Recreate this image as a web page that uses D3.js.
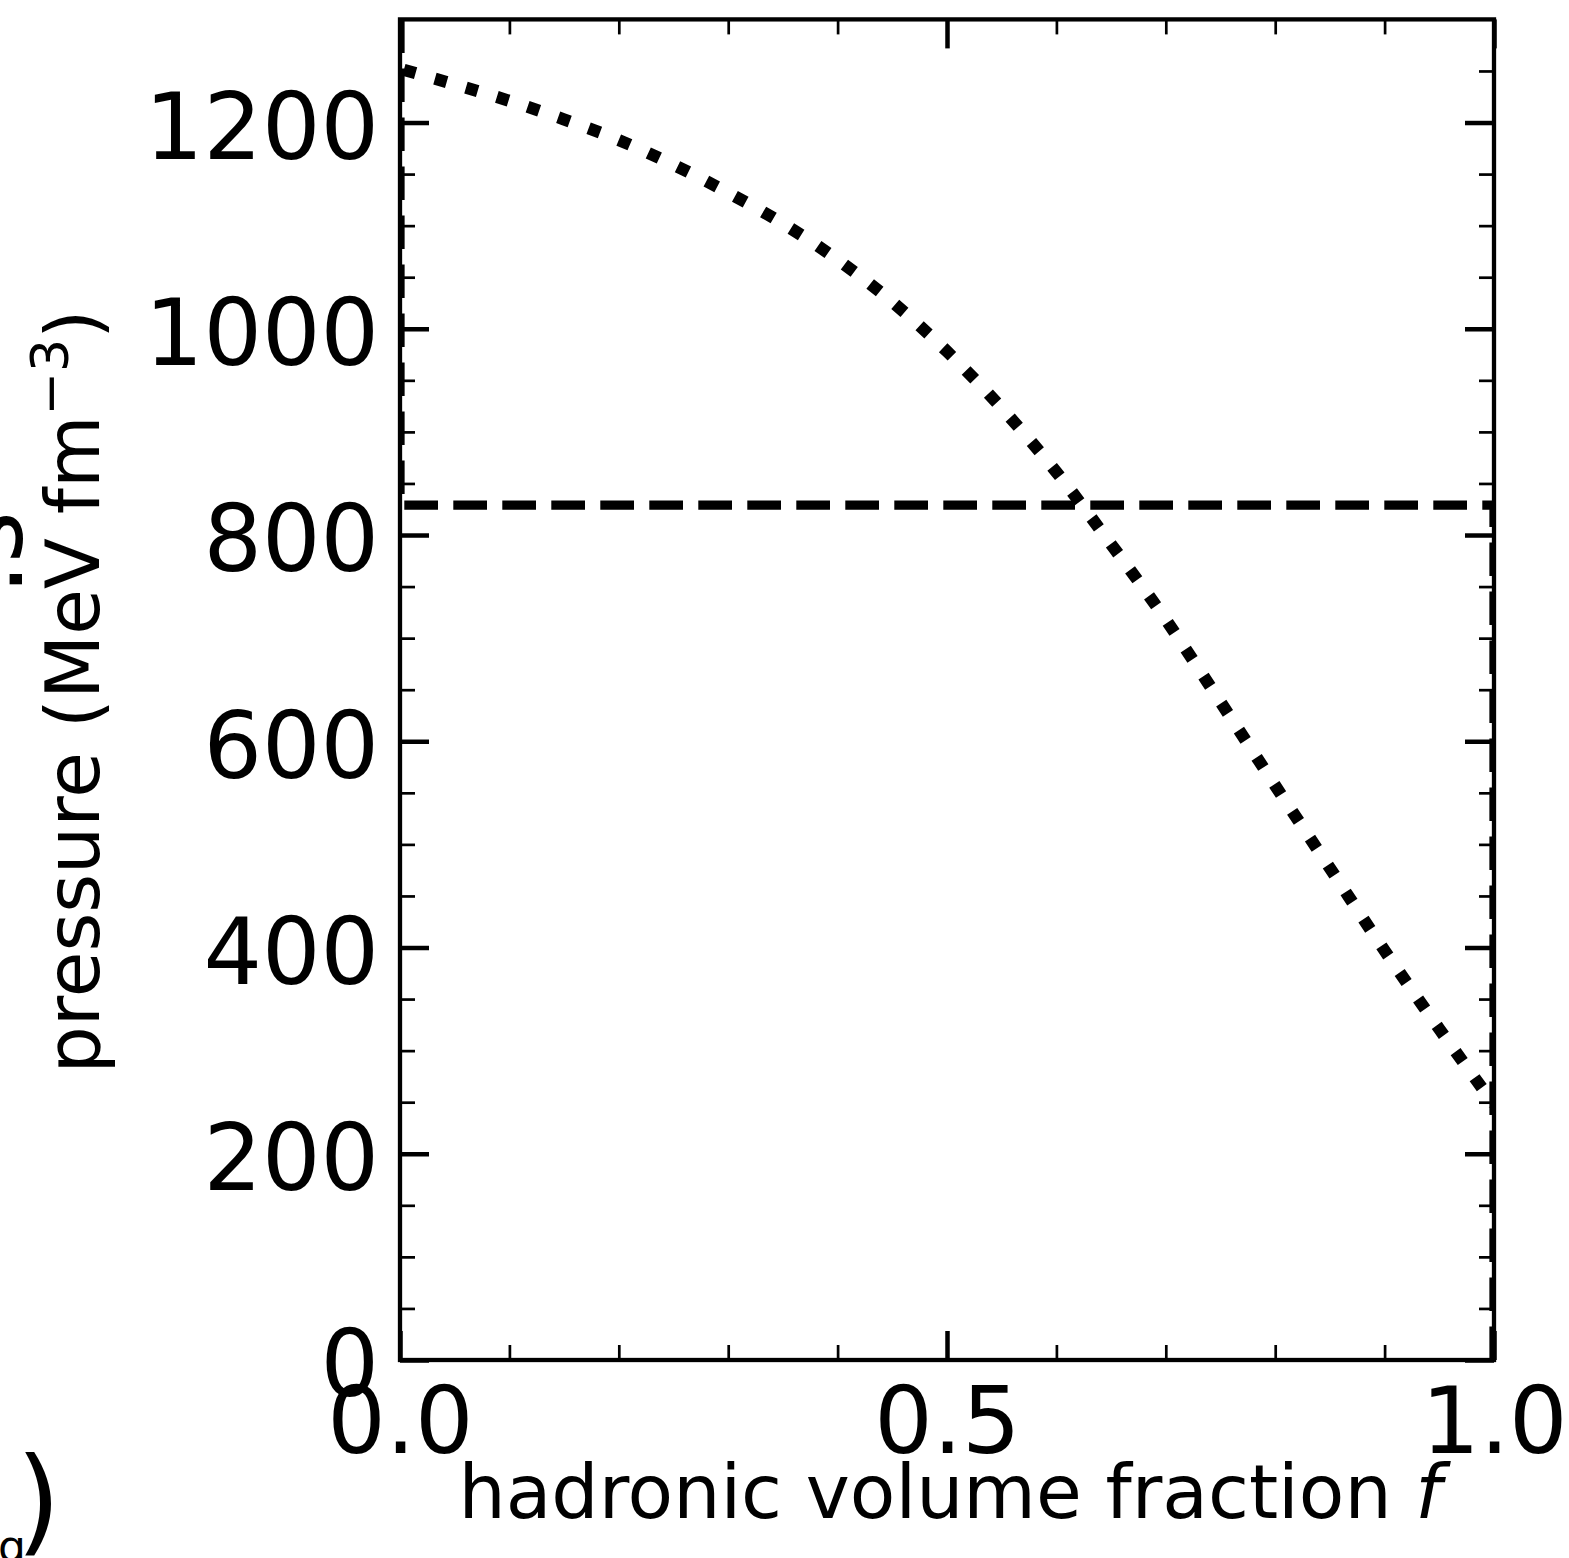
<!DOCTYPE html>
<html>
<head>
<meta charset="utf-8">
<script src="https://cdn.jsdelivr.net/npm/d3@7"></script>
<style>
  html, body { margin: 0; padding: 0; background: #fff; }
  svg { display: block; }
  text { font-family: "DejaVu Sans", sans-serif; fill: #000; }
</style>
</head>
<body>
<svg id="chart" width="1569" height="1558"></svg>
<script>
// Hadronic volume fraction f (x) and pressure in MeV fm^-3 (y)
const fraction = [0, 0.05, 0.1, 0.15, 0.2, 0.25, 0.3, 0.35, 0.4, 0.45, 0.5,
                  0.55, 0.6, 0.65, 0.7, 0.75, 0.8, 0.85, 0.9, 0.95, 1.0];
const pressureMixed = [1252, 1237, 1221, 1203, 1183, 1159, 1132, 1102, 1067, 1026, 978,
                       923, 861, 791, 718, 638, 557, 477, 397, 321, 248];

// Constant-pressure construction: down the f=0 edge, across, down the f=1 edge
const plateauF = [0, 0, 1, 1];
const plateauP = [1300, 829, 829, 0];

// Axis ticks
const xMajorTicks = [0, 0.5, 1.0];
const xTickLabels = ["0.0", "0.5", "1.0"];
const xMinorTicks = [0.1, 0.2, 0.3, 0.4, 0.6, 0.7, 0.8, 0.9];
const yMajorTicks = [0, 200, 400, 600, 800, 1000, 1200];
const yMinorTicks = [50, 100, 150, 250, 300, 350, 450, 500, 550, 650, 700, 750,
                     850, 900, 950, 1050, 1100, 1150, 1250];

const xLabel = "hadronic volume fraction ";
const xLabelVar = "f";
const yLabel = "pressure (MeV fm";
const yLabelExp = "\u22123";

(function draw() {
  const svg = d3.select("#chart");
  const pL = 400, pR = 1494, pT = 19.4, pB = 1360;

  const x = d3.scaleLinear().domain([0, 1]).range([pL, pR]);
  const y = d3.scaleLinear().domain([0, 1300]).range([pB, pT]);

  svg.append("defs").append("clipPath").attr("id", "plotClip")
    .append("rect").attr("x", pL).attr("y", pT)
    .attr("width", pR - pL).attr("height", pB - pT);

  const plot = svg.append("g").attr("clip-path", "url(#plotClip)");

  // Dashed plateau line
  const plateauPts = plateauF.map((f, i) => [x(f), y(plateauP[i])]);
  const dashPeriod = 49;
  const vertLen = y(plateauP[1]) - y(plateauP[0]);
  const dashOffset = -((vertLen + 4.3) % dashPeriod);
  plot.append("path")
    .attr("d", d3.line()(plateauPts))
    .attr("fill", "none")
    .attr("stroke", "#000")
    .attr("stroke-width", 9.25)
    .attr("stroke-linejoin", "miter")
    .attr("stroke-dasharray", "33.7,15.3")
    .attr("stroke-dashoffset", dashOffset);

  // Dotted mixed-phase curve
  plot.append("path")
    .datum(fraction.map((f, i) => [f, pressureMixed[i]]))
    .attr("d", d3.line().x(d => x(d[0])).y(d => y(d[1])).curve(d3.curveMonotoneX))
    .attr("fill", "none")
    .attr("stroke", "#000")
    .attr("stroke-width", 12.2)
    .attr("stroke-dasharray", "12.2,20.1")
    .attr("stroke-dashoffset", -4);

  // Axes with inward ticks on all four sides
  function styleAxis(g, width) {
    g.select(".domain").remove();
    g.selectAll(".tick line").attr("stroke", "#000").attr("stroke-width", width);
  }
  const tickFont = 92;

  svg.append("g").attr("transform", `translate(${pL},0)`)
    .call(d3.axisLeft(y).tickValues(yMinorTicks).tickSize(-15).tickFormat(""))
    .call(g => styleAxis(g, 2.7));
  svg.append("g").attr("transform", `translate(${pL},0)`)
    .call(d3.axisLeft(y).tickValues(yMajorTicks).tickSize(-29).tickPadding(21).tickFormat(d3.format("d")))
    .call(g => styleAxis(g, 4.5))
    .call(g => g.selectAll("text").attr("font-size", tickFont).attr("font-family", "DejaVu Sans")
      .attr("dy", "0.39em"));

  svg.append("g").attr("transform", `translate(${pR},0)`)
    .call(d3.axisRight(y).tickValues(yMinorTicks).tickSize(-15).tickFormat(""))
    .call(g => styleAxis(g, 2.7));
  svg.append("g").attr("transform", `translate(${pR},0)`)
    .call(d3.axisRight(y).tickValues(yMajorTicks).tickSize(-29).tickFormat(""))
    .call(g => styleAxis(g, 4.5));

  svg.append("g").attr("transform", `translate(0,${pB})`)
    .call(d3.axisBottom(x).tickValues(xMinorTicks).tickSize(-15).tickFormat(""))
    .call(g => styleAxis(g, 2.7));
  svg.append("g").attr("transform", `translate(0,${pB})`)
    .call(d3.axisBottom(x).tickValues(xMajorTicks).tickSize(-29).tickPadding(28)
      .tickFormat((d, i) => xTickLabels[i]))
    .call(g => styleAxis(g, 4.5))
    .call(g => g.selectAll("text").attr("font-size", tickFont).attr("font-family", "DejaVu Sans"));

  svg.append("g").attr("transform", `translate(0,${pT})`)
    .call(d3.axisTop(x).tickValues(xMinorTicks).tickSize(-15).tickFormat(""))
    .call(g => styleAxis(g, 2.7));
  svg.append("g").attr("transform", `translate(0,${pT})`)
    .call(d3.axisTop(x).tickValues(xMajorTicks).tickSize(-29).tickFormat(""))
    .call(g => styleAxis(g, 4.5));

  // Frame
  svg.append("rect")
    .attr("x", pL).attr("y", pT)
    .attr("width", pR - pL).attr("height", pB - pT)
    .attr("fill", "none").attr("stroke", "#000").attr("stroke-width", 4.3);

  // Axis titles
  const titleFont = 74.5;
  const xt = svg.append("text")
    .attr("x", 950).attr("y", 1518)
    .attr("text-anchor", "middle").attr("font-size", titleFont);
  xt.append("tspan").text(xLabel);
  xt.append("tspan").attr("font-style", "italic").text(xLabelVar);

  const yt = svg.append("text")
    .attr("transform", `translate(99,${(pT + pB) / 2 + 2}) rotate(-90)`)
    .attr("text-anchor", "middle").attr("font-size", titleFont);
  yt.append("tspan").text(yLabel);
  yt.append("tspan").attr("font-size", 52).attr("dy", -31).text(yLabelExp);
  yt.append("tspan").attr("dy", 31).text(")");

  // Edges of neighbouring panel labels cut off at the left border
  svg.append("text")
    .attr("transform", "translate(22,595) rotate(-90)")
    .attr("font-size", 100)
    .attr("font-family", "DejaVu Serif").text(".s");
  svg.append("text")
    .attr("x", 16).attr("y", 1540)
    .attr("font-size", 115).attr("font-family", "Liberation Serif").text(")");
  svg.append("text")
    .attr("x", -2).attr("y", 1562)
    .attr("font-size", 44).attr("font-family", "Liberation Serif").text("g");
})();
</script>
</body>
</html>
